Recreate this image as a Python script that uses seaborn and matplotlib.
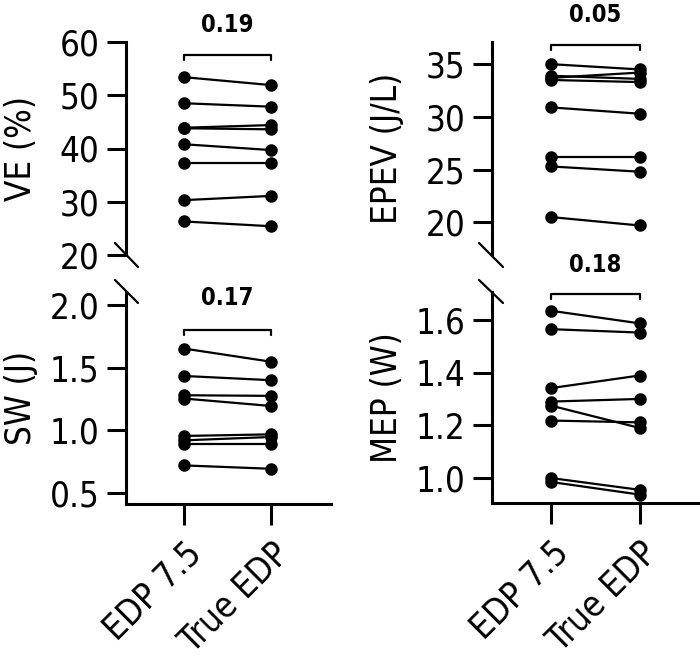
import numpy as np
import pandas as pd
import seaborn as sns
import matplotlib
matplotlib.use("Agg")
import matplotlib.pyplot as plt
from matplotlib.lines import Line2D

sns.set_style("ticks")
plt.rcParams['font.family'] = ['DejaVu Sans']
plt.rcParams['font.stretch'] = 'condensed'
for k in ["text.color", "axes.labelcolor", "xtick.color", "ytick.color", "axes.edgecolor"]:
    plt.rcParams[k] = "black"

conditions = ["EDP 7.5", "True EDP"]

ve_edp75 = [53.4, 48.5, 43.9, 43.8, 40.8, 37.2, 30.3, 26.3]
ve_true = [51.9, 47.85, 44.4, 43.6, 39.7, 37.2, 31.1, 25.4]

epev_edp75 = [35.0, 33.9, 33.7, 33.5, 30.9, 26.2, 25.3, 20.5]
epev_true = [34.5, 33.6, 34.2, 33.3, 30.3, 26.2, 24.8, 19.7]

sw_edp75 = [1.653, 1.434, 1.28, 1.254, 0.955, 0.92, 0.893, 0.72]
sw_true = [1.547, 1.40, 1.275, 1.194, 0.968, 0.947, 0.893, 0.693]

mep_edp75 = [1.635, 1.565, 1.341, 1.29, 1.275, 1.218, 1.0, 0.985]
mep_true = [1.587, 1.552, 1.389, 1.30, 1.19, 1.211, 0.955, 0.937]

p_values = ["0.19", "0.05", "0.17", "0.18"]
ylabels = ["VE (%)", "EPEV (J/L)", "SW (J)", "MEP (W)"]

W, H = 700, 663
fig = plt.figure(figsize=(W / 100, H / 100), dpi=100)


def fx(px):
    return px / W


def fy(py):
    return 1 - py / H


def make_axes(x0, x1, y0, y1):
    return fig.add_axes([fx(x0), fy(y1), fx(x1) - fx(x0), fy(y0) - fy(y1)])


panels = [
    dict(a=ve_edp75, b=ve_true, box=(126, 331, 42, 255), ylim=(20, 60), ticks=[20, 30, 40, 50, 60],
         fmt="{:.0f}", br=57.6, txt=63.2, bottom=False, labx=21),
    dict(a=epev_edp75, b=epev_true, box=(492, 700, 42, 255), ylim=(16.9, 37.1), ticks=[20, 25, 30, 35],
         fmt="{:.0f}", br=36.8, txt=39.7, bottom=False, labx=387),
    dict(a=sw_edp75, b=sw_true, box=(126, 331, 292, 504), ylim=(0.412, 2.104), ticks=[0.5, 1.0, 1.5, 2.0],
         fmt="{:.1f}", br=1.80, txt=2.056, bottom=True, labx=21),
    dict(a=mep_edp75, b=mep_true, box=(492, 700, 292, 503), ylim=(0.905, 1.706), ticks=[1.0, 1.2, 1.4, 1.6],
         fmt="{:.1f}", br=1.70, txt=1.81, bottom=True, labx=387),
]

lw_sp = 2.2
for i, p in enumerate(panels):
    ax = make_axes(*p["box"])
    n = len(p["a"])
    df = pd.DataFrame({
        "subject": list(range(n)) * 2,
        "pos": [0] * n + [1] * n,
        "value": list(p["a"]) + list(p["b"]),
    })
    sns.lineplot(data=df, x="pos", y="value", units="subject", estimator=None,
                 color="black", marker="o", markersize=9, markeredgewidth=0,
                 linewidth=1.6, ax=ax, legend=False, clip_on=False)
    ax.set_xlim(-0.66, 1.68)
    ax.set_ylim(*p["ylim"])
    ax.set_yticks(p["ticks"])
    ax.set_yticklabels([p["fmt"].format(t) for t in p["ticks"]], fontsize=25)
    ax.set_ylabel(ylabels[i], fontsize=25)
    x0, x1 = p["box"][0], p["box"][1]
    ax.yaxis.set_label_coords((p["labx"] - x0) / (x1 - x0), 0.5)
    ax.yaxis.label.set_va("center")
    ax.set_xlabel("")
    for s in ["top", "right"]:
        ax.spines[s].set_visible(False)
    ax.spines["left"].set_linewidth(lw_sp)
    ax.tick_params(axis="y", length=14, width=lw_sp, pad=5)
    if p["bottom"]:
        ax.spines["bottom"].set_linewidth(lw_sp)
        ax.set_xticks([0, 1])
        ax.set_xticklabels(conditions, rotation=45, ha="right", va="top",
                           rotation_mode="anchor", fontsize=25)
        ax.tick_params(axis="x", length=15, width=lw_sp, pad=8)
    else:
        ax.spines["bottom"].set_visible(False)
        ax.set_xticks([])
    # significance bracket
    yr = p["ylim"][1] - p["ylim"][0]
    d = yr * 0.025
    ax.plot([0, 0, 1, 1], [p["br"] - d, p["br"], p["br"], p["br"] - d],
            color="black", lw=1.6, clip_on=False)
    ax.text(0.5, p["txt"], p_values[i], ha="center", va="center",
            fontsize=17, fontweight="bold", clip_on=False)

# axis break marks
for (xa, ya, xb, yb) in [(115, 243, 138, 267), (115, 280, 138, 303),
                         (479, 243, 503, 267), (479, 280, 503, 303)]:
    fig.add_artist(Line2D([fx(xa), fx(xb)], [fy(ya), fy(yb)], color="black",
                          lw=1.6, transform=fig.transFigure))

fig.savefig("out.png", dpi=100)
